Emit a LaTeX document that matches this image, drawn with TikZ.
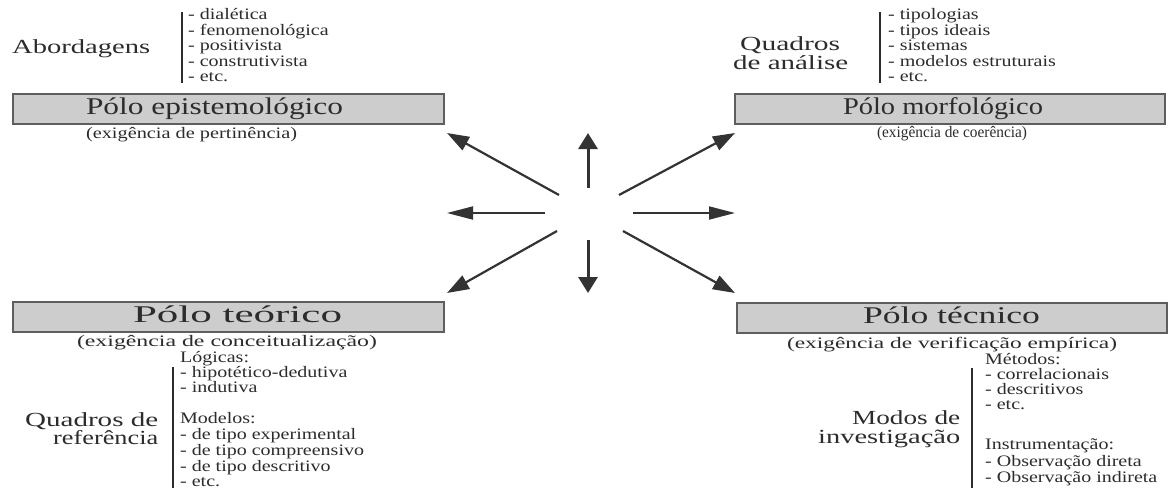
\documentclass[tikz,border=0pt]{standalone}
\usepackage{fontspec}
\setmainfont[FakeStretch=1.25]{Liberation Serif}
\usepackage{graphicx}
\usetikzlibrary{arrows.meta}
\definecolor{txt}{HTML}{2C2C2C}
\definecolor{boxfill}{HTML}{CDCDCD}
\definecolor{boxline}{HTML}{5E5E5E}
\definecolor{arrc}{HTML}{333333}
\newdimen\fitdim
\newcommand\fitw[2]{\setbox0=\hbox{#2}\fitdim=\wd0\pgfmathsetmacro\fitscale{#1/\fitdim}\scalebox{\fitscale}[1]{\box0}}
\begin{document}
\begin{tikzpicture}[x=1pt,y=-1pt,
  pbox/.style={draw=boxline, fill=boxfill, line width=1.8pt, inner sep=0, anchor=north west},
  ttl/.style={font=\fontsize{24}{24}\selectfont, text=txt, inner sep=0, anchor=base},
  subt/.style={font=\fontsize{16}{16}\selectfont, text=txt, inner sep=0, anchor=base},
  labl/.style={font=\fontsize{20}{20}\selectfont, text=txt, inner sep=0, anchor=base west},
  itm/.style={font=\fontsize{16}{16}\selectfont, text=txt, inner sep=0, anchor=base west},
  itmb/.style={font=\fontsize{16}{16}\selectfont, text=txt, inner sep=0, anchor=base west},
  vbar/.style={draw=txt, line width=2pt},
  arwv/.style={draw=arrc, line width=3pt, -{Triangle[length=16pt,width=19pt]}},
  arwh/.style={draw=arrc, line width=1.8pt, -{Triangle[length=26pt,width=13pt]}},
  arwd/.style={draw=arrc, line width=2.2pt, -{Triangle[length=22pt,width=15pt]}}]
\useasboundingbox (0,0) rectangle (1176,488);
\fill[white] (0,0) rectangle (1176,488);

% boxes
\node[pbox, minimum width=431pt, minimum height=30pt] (boxTL) at (12,93) {};
\node[pbox, minimum width=430pt, minimum height=30pt] (boxTR) at (734,93) {};
\node[pbox, minimum width=431pt, minimum height=30pt] (boxBL) at (12,301) {};
\node[pbox, minimum width=430pt, minimum height=30pt] (boxBR) at (736,302) {};

% titles
\node[ttl] (tTL) at (214.5,114) {\fitw{257}{Pólo epistemológico}};
\node[ttl] (tTR) at (943,114) {\fitw{200}{Pólo morfológico}};
\node[ttl] (tBL) at (237.5,322) {\fitw{209}{Pólo teórico}};
\node[ttl] (tBR) at (951.5,323) {\fitw{177}{Pólo técnico}};

% subtitles
\node[subt] (sTL) at (191.5,138) {\fitw{211}{(exigência de pertinência)}};
\node[subt] (sTR) at (952,137) {\fitw{150}{(exigência de coerência)}};
\node[subt] (sBL) at (227,346) {\fitw{300}{(exigência de conceitualização)}};
\node[subt] (sBR) at (952,348) {\fitw{330}{(exigência de verificação empírica)}};

% labels
\node[labl] (lTL) at (12,53) {\fitw{138}{Abordagens}};
\node[labl] (lTRa) at (740,50) {\fitw{100}{Quadros}};
\node[labl] (lTRb) at (733,69) {\fitw{115}{de análise}};
\node[labl] (lBLa) at (25,426) {\fitw{133}{Quadros de}};
\node[labl] (lBLb) at (53,444) {\fitw{105}{referência}};
\node[labl] (lBRa) at (852,424) {\fitw{108}{Modos de}};
\node[labl] (lBRb) at (818,443) {\fitw{142}{investigação}};

% bars
\draw[vbar] (182,12) -- (182,83);
\draw[vbar] (880,12) -- (880,83);
\draw[vbar] (173,367) -- (173,488);
\draw[vbar] (972,368) -- (972,488);

% lists
\node[itm] (a1) at (188,19) {- dialética};
\node[itm] (a2) at (188,35) {- fenomenológica};
\node[itm] (a3) at (188,50.5) {- positivista};
\node[itm] (a4) at (188,66) {- construtivista};
\node[itm] (a5) at (188,81.5) {- etc.};

\node[itm] (b1) at (888,19) {- tipologias};
\node[itm] (b2) at (888,35) {- tipos ideais};
\node[itm] (b3) at (888,50.5) {- sistemas};
\node[itm] (b4) at (888,66) {- modelos estruturais};
\node[itm] (b5) at (888,81.5) {- etc.};

\node[itmb] (c1) at (180,362) {Lógicas:};
\node[itmb] (c2) at (180,377) {- hipotético-dedutiva};
\node[itmb] (c3) at (180,392) {- indutiva};
\node[itmb] (c4) at (180,423) {Modelos:};
\node[itmb] (c5) at (180,439) {- de tipo experimental};
\node[itmb] (c6) at (180,455) {- de tipo compreensivo};
\node[itmb] (c7) at (180,471) {- de tipo descritivo};
\node[itmb] (c8) at (180,486) {- etc.};

\node[itmb] (d1) at (985,364) {Métodos:};
\node[itmb] (d2) at (985,379) {- correlacionais};
\node[itmb] (d3) at (985,394) {- descritivos};
\node[itmb] (d4) at (985,409) {- etc.};
\node[itmb] (d5) at (985,449) {Instrumentação:};
\node[itmb] (d6) at (985,466) {- Observação direta};
\node[itmb] (d7) at (985,482) {- Observação indireta};

% arrows
\coordinate (upT) at (588,188);   \coordinate (upH) at (588,133);
\coordinate (dnT) at (588,240);   \coordinate (dnH) at (588,293);
\coordinate (lfT) at (545,213);   \coordinate (lfH) at (447,213);
\coordinate (rtT) at (633,213);   \coordinate (rtH) at (735,213);
\coordinate (ulT) at (559,195);   \coordinate (ulH) at (447,133);
\coordinate (urT) at (619,195);   \coordinate (urH) at (735,133);
\coordinate (llT) at (557,231);   \coordinate (llH) at (447,293);
\coordinate (lrT) at (623,231);   \coordinate (lrH) at (735,293);
\draw[arwv] (upT) -- (upH);
\draw[arwv] (dnT) -- (dnH);
\draw[arwh] (lfT) -- (lfH);
\draw[arwh] (rtT) -- (rtH);
\draw[arwd] (ulT) -- (ulH);
\draw[arwd] (urT) -- (urH);
\draw[arwd] (llT) -- (llH);
\draw[arwd] (lrT) -- (lrH);
\end{tikzpicture}
\end{document}
